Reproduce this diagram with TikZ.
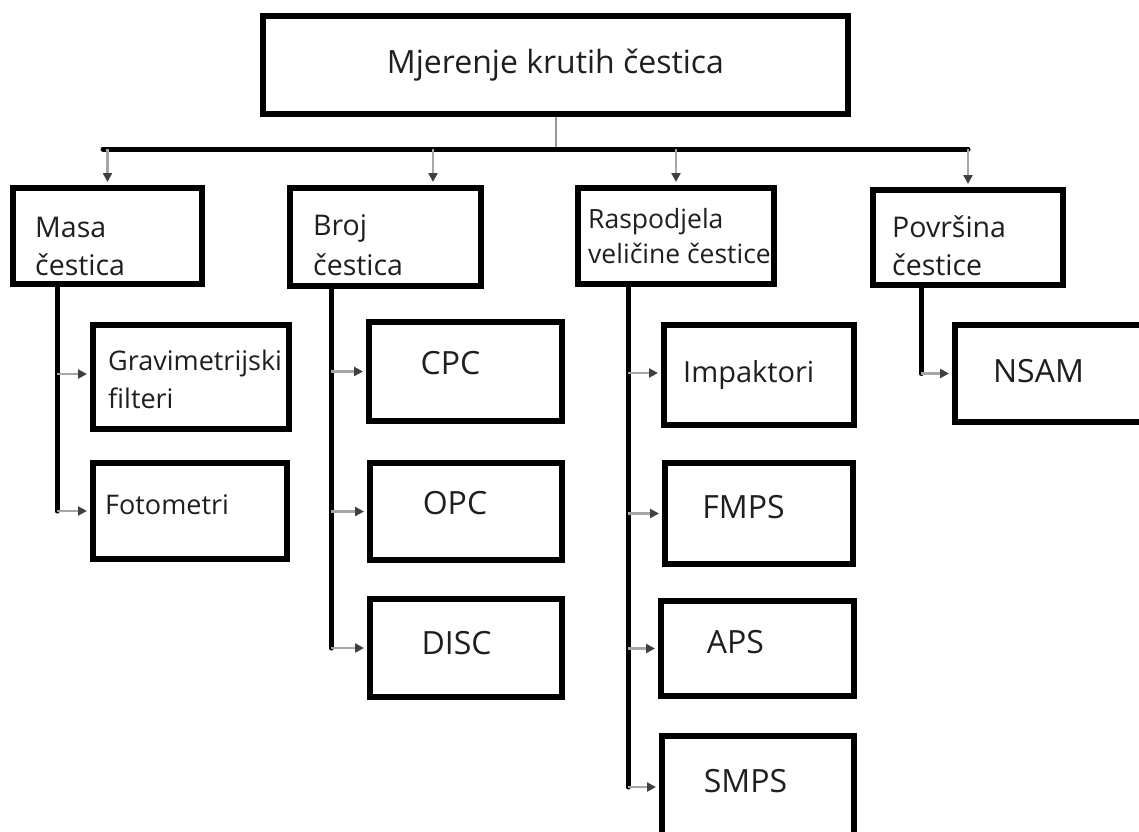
\documentclass[tikz,border=0pt]{standalone}
\usepackage{fontspec}
\setmainfont{Open Sans}
\usetikzlibrary{arrows.meta}
\begin{document}
\begin{tikzpicture}[x=1pt,y=-1pt,
  box/.style={draw=black, line width=6pt, inner sep=0pt, fill=white},
  lab/.style={inner sep=0pt, anchor=base west, text=black!88},
  clab/.style={inner sep=0pt, anchor=base, text=black!88},
  ftop/.style={font=\fontsize{32}{38}\selectfont},
  ftwo/.style={font=\fontsize{28.5}{34}\selectfont},
  fsmall/.style={font=\fontsize{26.5}{32}\selectfont},
  flow/.style={font=\fontsize{27}{32}\selectfont},
  fcap/.style={font=\fontsize{32}{38}\selectfont},
  stemline/.style={line width=5pt, black, line cap=round},
  thin/.style={draw=black!40, line width=2pt},
  arr/.style={draw=black!35, line width=2.5pt, shorten >=3pt,
    -{Triangle[length=9pt,width=9pt,color=black!75]}}]
\clip (0,0) rectangle (1139,831);
\fill[white] (0,0) rectangle (1139,831);

% boxes
\node[box, minimum width=585pt, minimum height=98pt] (top) at (555.5,65) {};
\node[box, minimum width=189pt, minimum height=96pt] (masa) at (107.5,236) {};
\node[box, minimum width=191pt, minimum height=98pt] (broj) at (385.5,237) {};
\node[box, minimum width=196pt, minimum height=96pt] (rasp) at (676,236) {};
\node[box, minimum width=190pt, minimum height=95pt] (pov) at (968,237.5) {};

\node[box, minimum width=196pt, minimum height=104pt] (grav) at (191,377) {};
\node[box, minimum width=194pt, minimum height=96pt] (foto) at (190,511) {};

\node[box, minimum width=193pt, minimum height=99pt] (cpc) at (465.5,371.5) {};
\node[box, minimum width=192pt, minimum height=97pt] (opc) at (466,511.5) {};
\node[box, minimum width=192pt, minimum height=98pt] (disc) at (466,648) {};

\node[box, minimum width=190pt, minimum height=100pt] (imp) at (759,375) {};
\node[box, minimum width=188pt, minimum height=101pt] (fmps) at (759,513.5) {};
\node[box, minimum width=193pt, minimum height=95pt] (aps) at (757.5,648.5) {};
\node[box, minimum width=192pt, minimum height=102pt] (smps) at (758,787) {};

\node[box, minimum width=192pt, minimum height=97pt] (nsam) at (1051,373.5) {};

% texts
\node[clab, ftop] at (555.5,73) {Mjerenje krutih čestica};
\node[lab, ftwo] at (35,237) {Masa};
\node[lab, ftwo] at (35,275) {čestica};
\node[lab, ftwo] at (313,235) {Broj};
\node[lab, ftwo] at (313,275) {čestica};
\node[lab, fsmall] at (588,228) {Raspodjela};
\node[lab, fsmall] at (588,263) {veličine čestice};
\node[lab, ftwo] at (892,237) {Površina};
\node[lab, ftwo] at (892,275) {čestice};

\node[lab, flow] at (108,370) {Gravimetrijski};
\node[lab, flow] at (108,408) {filteri};
\node[lab, flow] at (105,514) {Fotometri};
\node[clab, fcap] at (450.5,374) {CPC};
\node[clab, fcap] at (455,514) {OPC};
\node[clab, fcap] at (456.5,654) {DISC};
\node[lab, font=\fontsize{29}{34}\selectfont] at (683,382) {Impaktori};
\node[clab, fcap] at (743.5,518) {FMPS};
\node[clab, fcap] at (735.5,653) {APS};
\node[clab, fcap] at (745.5,792) {SMPS};
\node[clab, fcap] at (1038.5,382) {NSAM};

% top connector bar
\coordinate (barL) at (103,149);
\coordinate (barR) at (968,149);
\coordinate (d2) at (433,149);
\draw[thin] (top.south) -- (top.south |- barL);
\draw[stemline] (barL) -- (barR);
\draw[arr] (masa.north |- barL) -- (masa.north);
\draw[arr] (d2) -- (d2 |- broj.north);
\draw[arr] (rasp.north |- barL) -- (rasp.north);
\draw[arr] (barR) -- (pov.north);

% vertical stems
\coordinate (s1) at (57,0);
\coordinate (s2) at (331,0);
\coordinate (s3) at (628,0);
\coordinate (s4) at (921,0);
\coordinate (g1) at (57,374);
\coordinate (i1) at (628,373);
\draw[stemline] (s1 |- masa.south) -- (s1 |- foto.west);
\draw[stemline] (s2 |- broj.south) -- (s2 |- disc.west);
\draw[stemline] (s3 |- rasp.south) -- (s3 |- smps.west);
\draw[stemline] (s4 |- pov.south) -- (s4 |- nsam.west);

% horizontal arrows
\draw[arr] (g1) -- (g1 -| grav.west);
\draw[arr] (s1 |- foto.west) -- (foto.west);
\draw[arr] (s2 |- cpc.west) -- (cpc.west);
\draw[arr] (s2 |- opc.west) -- (opc.west);
\draw[arr] (s2 |- disc.west) -- (disc.west);
\draw[arr] (i1) -- (i1 -| imp.west);
\draw[arr] (s3 |- fmps.west) -- (fmps.west);
\draw[arr] (s3 |- aps.west) -- (aps.west);
\draw[arr] (s3 |- smps.west) -- (smps.west);
\draw[arr] (s4 |- nsam.west) -- (nsam.west);
\end{tikzpicture}
\end{document}
